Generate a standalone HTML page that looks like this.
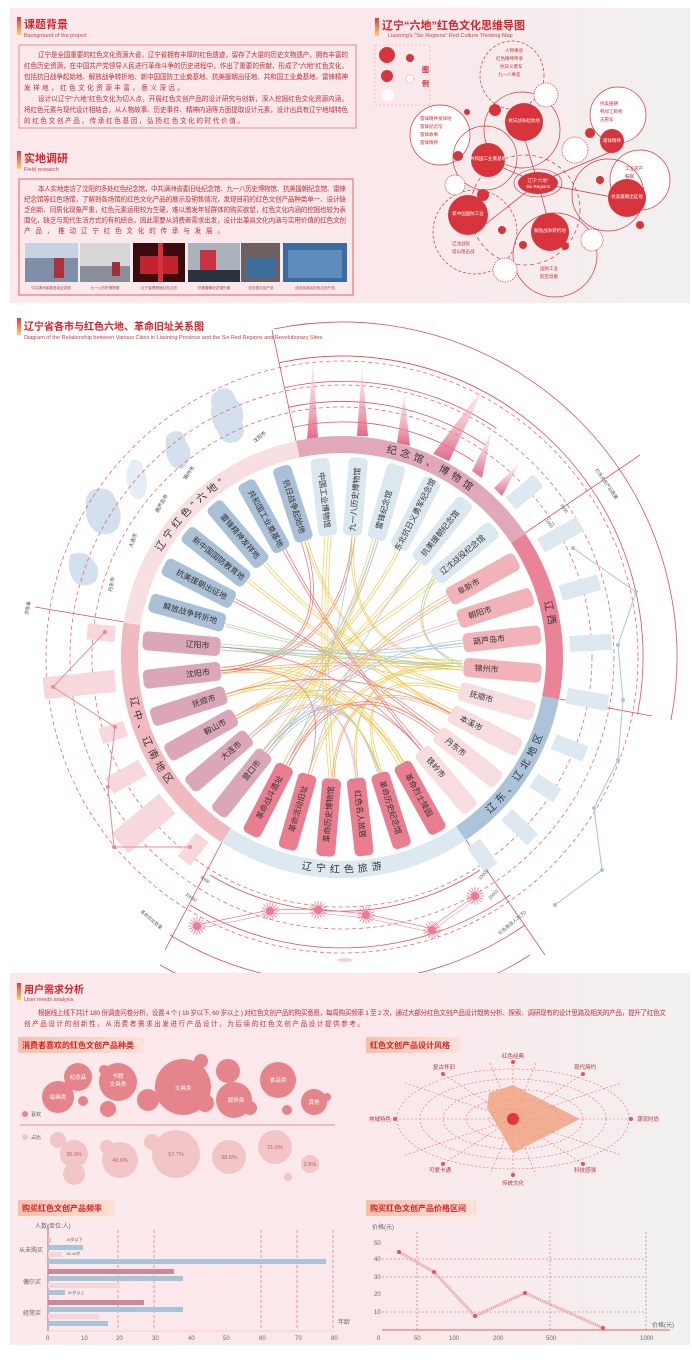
<!DOCTYPE html>
<html><head><meta charset="utf-8">
<style>
html,body{margin:0;padding:0;background:#fff;}
svg{display:block;font-family:"Liberation Sans","Noto Sans CJK SC",sans-serif;}
.h{fill:#d6222c;font-weight:bold;}
.sub{fill:#c84048;font-size:5.5px;}
.p{fill:#c0303a;font-size:6.6px;}
.bt{font-size:8px;fill:#333;text-anchor:middle;dominant-baseline:central;}
.rl{font-size:10px;fill:#333;text-anchor:middle;dominant-baseline:central;letter-spacing:4px;}
.ch path{fill:none;stroke-width:.8;opacity:.85;}
.mm{fill:#c8323a;font-size:4.5px;}
.ax{font-size:6px;fill:#666;}
</style></head>
<body>
<svg width="692" height="1363" viewBox="0 0 692 1363" xmlns="http://www.w3.org/2000/svg">
<defs>
<linearGradient id="pg" x1="0" x2="1" y1="0" y2="0">
<stop offset="0" stop-color="#fce9eb"/><stop offset="0.55" stop-color="#fbe8ea"/><stop offset="1" stop-color="#f1f0f0"/></linearGradient>
<linearGradient id="ic" x1="0" x2="0" y1="0" y2="1"><stop offset="0" stop-color="#e8383a"/><stop offset="1" stop-color="#f7d170"/></linearGradient>
<linearGradient id="tab" x1="0" x2="1"><stop offset="0" stop-color="#f6c0aa"/><stop offset="1" stop-color="#fde2d6"/></linearGradient>
<linearGradient id="sp" x1="0" x2="0" y1="1" y2="0"><stop offset="0" stop-color="#e05878"/><stop offset="1" stop-color="#f6c8d2" stop-opacity=".3"/></linearGradient>
<g id="sb"><circle r="4" fill="#f07b90"/><g stroke="#f07b90" stroke-width=".8">
<line x1="-9" y1="0" x2="9" y2="0"/><line x1="0" y1="-9" x2="0" y2="9"/><line x1="-6.4" y1="-6.4" x2="6.4" y2="6.4"/><line x1="-6.4" y1="6.4" x2="6.4" y2="-6.4"/><line x1="-8.3" y1="-3.4" x2="8.3" y2="3.4"/><line x1="-3.4" y1="-8.3" x2="3.4" y2="8.3"/><line x1="-8.3" y1="3.4" x2="8.3" y2="-3.4"/><line x1="-3.4" y1="8.3" x2="3.4" y2="-8.3"/></g></g>
<path id="a1" d="M297.8,449.2 A212.5,212.5 0 0 1 518.2,538.2"/>
<path id="a2" d="M518.2,538.2 A212.5,212.5 0 0 1 550.6,697.6"/>
<path id="a3" d="M460.8,833.2 A212.5,212.5 0 0 0 550.6,697.6"/>
<path id="a4" d="M226.2,835.3 A212.5,212.5 0 0 0 460.8,833.2"/>
<path id="a5" d="M132.1,623.8 A212.5,212.5 0 0 0 226.2,835.3"/>
<path id="a6" d="M132.1,623.8 A212.5,212.5 0 0 1 297.8,449.2"/>
</defs>

<!-- TOP PANEL -->
<rect x="10" y="8" width="680" height="295" fill="url(#pg)"/>
<rect x="17" y="17" width="4" height="18" fill="url(#ic)"/>
<text x="24" y="28" class="h" font-size="11">课题背景</text>
<text x="24" y="37" class="sub">Background of the project</text>
<rect x="19" y="45" width="337" height="83" fill="none" stroke="#e38a90" stroke-width="1"/>
<text class="p" x="38" y="57" textLength="310">辽宁是全国重要的红色文化资源大省，辽宁省拥有丰厚的红色遗迹，留存了大量的历史文物遗产，拥有丰富的</text>
<text class="p" x="24" y="68" textLength="324">红色历史资源，在中国共产党领导人民进行革命斗争的历史进程中，作出了重要的贡献，形成了“六地”红色文化，</text>
<text class="p" x="24" y="79" textLength="324">包括抗日战争起始地、解放战争转折地、新中国国防工业奠基地、抗美援朝出征地、共和国工业奠基地、雷锋精神</text>
<text class="p" x="24" y="90" textLength="160">发祥地，红色文化资源丰富，意义深远。</text>
<text class="p" x="38" y="101" textLength="310">设计以辽宁“六地”红色文化为切入点，开展红色文创产品的设计研究与创新，深入挖掘红色文化资源内涵，</text>
<text class="p" x="24" y="112" textLength="324">将红色元素与现代设计相结合，从人物故事、历史事件、精神内涵等方面提取设计元素，设计出具有辽宁地域特色</text>
<text class="p" x="24" y="123" textLength="220">的红色文创产品，传承红色基因，弘扬红色文化的时代价值。</text>

<rect x="17" y="151" width="4" height="18" fill="url(#ic)"/>
<text x="24" y="162" class="h" font-size="11">实地调研</text>
<text x="24" y="171" class="sub">Field research</text>
<rect x="19" y="179" width="334" height="116" fill="none" stroke="#e3606a" stroke-width="1"/>
<text class="p" x="38" y="191" textLength="308">本人实地走访了沈阳的多处红色纪念馆，中共满洲省委旧址纪念馆、九一八历史博物馆、抗美援朝纪念馆、雷锋</text>
<text class="p" x="24" y="201.5" textLength="322">纪念馆等红色场馆，了解到各场馆的红色文化产品的展示及销售情况，发现目前的红色文创产品种类单一、设计缺</text>
<text class="p" x="24" y="212" textLength="322">乏创新、同质化现象严重，红色元素运用较为生硬，难以激发年轻群体的购买欲望，红色文化内涵的挖掘也较为表</text>
<text class="p" x="24" y="222.5" textLength="322">面化，缺乏与现代生活方式的有机结合，因此需要从消费者需求出发，设计出兼具文化内涵与实用价值的红色文创</text>
<text class="p" x="24" y="233" textLength="200">产品，推动辽宁红色文化的传承与发展。</text>
<rect x="25" y="243" width="53" height="39" fill="#7f8fa8"/><rect x="25" y="243" width="53" height="15" fill="#c6d3e2"/><rect x="54" y="258" width="10" height="20" fill="#b0303a"/>
<rect x="80" y="243" width="50" height="39" fill="#d8d6d6"/><rect x="80" y="266" width="50" height="16" fill="#8a8e98"/><rect x="112" y="262" width="8" height="14" fill="#a03038"/>
<rect x="133" y="243" width="52" height="39" fill="#3a0c0e"/><rect x="140" y="256" width="38" height="18" fill="#c02430"/><rect x="158" y="243" width="5" height="39" fill="#d83038"/>
<rect x="188" y="243" width="52" height="39" fill="#aab2bc"/><rect x="200" y="250" width="16" height="32" fill="#c8353c"/><rect x="188" y="270" width="52" height="12" fill="#2a3440"/>
<rect x="241" y="243" width="39" height="39" fill="#6c6060"/><rect x="246" y="258" width="30" height="20" fill="#3e6e9e"/>
<rect x="283" y="243" width="64" height="39" fill="#3a6aa0"/><rect x="288" y="250" width="54" height="28" fill="#6e9cc8" opacity=".7"/>
<g font-size="3.6" fill="#b0343a" text-anchor="middle"><text x="51" y="289">中共满洲省委旧址纪念馆</text><text x="105" y="289">九一八历史博物馆</text><text x="159" y="289">辽宁省博物馆红色文创</text><text x="214" y="289">抗美援朝纪念馆外景</text><text x="261" y="289">纪念馆文创产品</text><text x="315" y="289">纪念品商店红色文创产品</text></g>

<!-- mind map -->
<rect x="375" y="18" width="4" height="18" fill="url(#ic)"/>
<text x="382" y="29" class="h" font-size="11">辽宁“六地”红色文化思维导图</text>
<text x="388" y="37" class="sub">Liaoning's "Six Regions" Red Culture Thinking Map</text>
<rect x="375" y="45" width="55" height="60" fill="none" stroke="#e8a0a4" stroke-width=".6" stroke-dasharray="2 2"/>
<circle cx="387" cy="55" r="8" fill="#d8343c"/><circle cx="410" cy="58" r="4" fill="#d8343c"/>
<circle cx="387" cy="76" r="6" fill="#d8343c"/><circle cx="410" cy="79" r="4" fill="#fff" stroke="#d8343c" stroke-width=".5" stroke-dasharray="1 1"/>
<circle cx="388" cy="95" r="6" fill="#fff"/>
<text x="422" y="72" class="h" font-size="7">图</text><text x="422" y="86" class="h" font-size="7">例</text>
<g fill="none" stroke="#d8343c" stroke-width=".7">
<ellipse cx="512" cy="75" rx="32" ry="34" stroke-dasharray="3 2"/>
<circle cx="522" cy="130" r="38"/>
<circle cx="440" cy="135" r="30" fill="#fff"/>
<circle cx="485" cy="158" r="32"/>
<circle cx="618" cy="115" r="28" fill="#fff"/>
<circle cx="640" cy="180" r="30" fill="#fff"/>
<circle cx="608" cy="195" r="36"/>
<circle cx="475" cy="232" r="42" stroke-dasharray="3 2"/>
<circle cx="555" cy="255" r="42"/>
<circle cx="525" cy="210" r="55" stroke-dasharray="4 3"/>
<circle cx="546" cy="95" r="12" fill="#fff" stroke-dasharray="1.5 1"/>
<circle cx="575" cy="150" r="13" fill="#fff" stroke-dasharray="1.5 1"/>
<circle cx="505" cy="270" r="12" fill="#fff" stroke-dasharray="1.5 1"/>
<circle cx="592" cy="240" r="11" fill="#fff" stroke-dasharray="1.5 1"/>
<circle cx="455" cy="185" r="10" fill="#fff" stroke-dasharray="1.5 1"/>
<path d="M538,183 L522,130 M538,183 L485,160 M538,183 L615,150 M538,183 L628,200 M538,183 L478,230 M538,183 L552,235"/>
</g>
<g fill="#d8343c">
<circle cx="524" cy="122" r="19"/><circle cx="488" cy="160" r="17"/><circle cx="612" cy="141" r="12"/>
<circle cx="627" cy="198" r="19"/><circle cx="468" cy="215" r="20"/><circle cx="550" cy="232" r="19"/>
<circle cx="495" cy="110" r="6"/><circle cx="458" cy="156" r="5"/><circle cx="590" cy="133" r="5"/>
<circle cx="483" cy="195" r="6"/><circle cx="523" cy="245" r="4"/><circle cx="565" cy="246" r="4"/><circle cx="600" cy="180" r="4"/>
<circle cx="502" cy="230" r="4"/><circle cx="640" cy="225" r="4"/><circle cx="467" cy="112" r="3"/>
<ellipse cx="538" cy="183" rx="20" ry="11"/>
</g>
<ellipse cx="538" cy="183" rx="24" ry="14" fill="none" stroke="#d8343c" stroke-width=".6"/>
<g class="mm"><text x="505" y="52">人物事迹</text><text x="496" y="60">红色精神传承</text><text x="500" y="68">抗日义勇军</text><text x="498" y="76">九一八事变</text>
<text x="420" y="120">雷锋精神发祥地</text><text x="420" y="128">雷锋纪念馆</text><text x="420" y="136">雷锋故事</text><text x="420" y="144">雷锋精神</text>
<text x="600" y="105">抗美援朝</text><text x="600" y="113">鸭绿江断桥</text><text x="600" y="121">志愿军</text>
<text x="625" y="170">工业遗产</text><text x="625" y="178">鞍钢</text><text x="628" y="186">沈飞</text>
<text x="452" y="245">辽沈战役</text><text x="452" y="253">塔山阻击战</text><text x="540" y="270">国防工业</text><text x="540" y="278">航空母舰</text></g>
<g fill="#fff" font-size="4.5" text-anchor="middle"><text x="538" y="182">辽宁“六地”</text><text x="538" y="188">Six Regions</text>
<text x="524" y="122">抗日战争起始地</text><text x="488" y="160">共和国工业奠基地</text><text x="627" y="198">抗美援朝出征地</text><text x="468" y="215">新中国国防工业</text><text x="550" y="232">解放战争转折地</text><text x="612" y="142">雷锋精神</text></g>

<!-- MIDDLE TITLE -->
<rect x="17" y="318" width="4" height="17" fill="url(#ic)"/>
<text x="24" y="330" class="h" font-size="10">辽宁省各市与红色六地、革命旧址关系图</text>
<text x="24" y="339" class="sub" font-size="4.5">Diagram of the Relationship between Various Cities in Liaoning Province and the Six Red Regions and Revolutionary Sites</text>

<!-- map blobs -->
<g fill="#b7cde2" opacity=".6">
<path d="M218,390 q14,-6 18,10 q10,8 6,22 q6,14 -6,20 q-14,4 -18,-10 q-10,-14 -6,-26 q-4,-10 6,-16z"/>
<path d="M172,432 q12,-4 14,10 q8,10 2,20 q-6,12 -16,4 q-8,-10 -6,-22 q-2,-8 6,-12z"/>
<path d="M132,460 q10,-2 12,10 q6,12 0,26 q-8,8 -14,-4 q-6,-14 -2,-24z" opacity=".6"/>
<path d="M92,490 q18,-6 24,10 q8,14 2,28 q-8,10 -22,4 q-12,-10 -10,-26 q-2,-10 6,-16z"/>
<path d="M70,555 q14,-6 22,4 q10,10 4,22 q-10,8 -20,2 q-10,-10 -6,-28z"/>
</g>
<g font-size="5" fill="#444"><text x="255" y="443" transform="rotate(-40 255 443)">沈阳市</text><text x="186" y="480" transform="rotate(-55 186 480)">锦州市</text><text x="158" y="513" transform="rotate(-60 158 513)">葫芦岛市</text><text x="132" y="548" transform="rotate(-70 132 548)">大连市</text><text x="112" y="592" transform="rotate(-80 112 592)">丹东市</text></g>

<!-- guide circles -->
<g fill="none" stroke="#e46a7a" stroke-width=".8" stroke-dasharray="4 3">
<circle cx="342" cy="657" r="250"/><circle cx="342" cy="657" r="272"/><circle cx="342" cy="657" r="296"/>
</g>
<g fill="none" stroke="#e0505e" stroke-width=".8">
<path d="M292.5,427.4 A236,236 0 0 1 473.9,461.5"/>
<path d="M288.3,407.3 A256,256 0 0 1 485.1,444.8"/>
<path d="M284.6,387.6 A276,276 0 0 1 496.4,428.2"/>
<path d="M279.8,362.6 A301,301 0 0 1 510.3,407.5"/>
<path d="M279.8,362.6 A301,301 0 0 1 637.5,714.4" />
<path d="M274,329 A335,335 0 0 1 671,720" />
<path d="M480,870 A255,255 0 0 1 210,875"/>
<path d="M510,895 A292,292 0 0 1 190,905"/>
<path d="M525,925 A325,325 0 0 1 170,935"/>
<path d="M530,955 A360,360 0 0 1 160,965"/>
<line x1="296" y1="441" x2="272" y2="330"/>
<line x1="525" y1="533" x2="640" y2="455"/>
<line x1="559" y1="699" x2="652" y2="716"/>
<line x1="466" y1="840" x2="545" y2="955"/>
<line x1="222" y1="842" x2="165" y2="950"/>
<line x1="124" y1="622" x2="35" y2="607"/>
</g>
<!-- spikes -->
<g fill="url(#sp)" opacity=".9">
<path d="M307,440 L313,360 L318,438z"/>
<path d="M357,436 L362,365 L368,436z"/>
<path d="M397,443 L404,392 L410,446z"/>
<path d="M433,454 L485,385 L449,461z"/>
<path d="M472,471 L492,430 L482,478z"/>
<path d="M494,488 L520,462 L502,496z"/>
</g>
<!-- outer pale bars -->
<g fill="#dde8f0">
<rect x="570" y="640" width="36" height="16" transform="rotate(-40 342 657)"/>
<rect x="570" y="648" width="45" height="16" transform="rotate(-29 342 657)"/>
<rect x="570" y="648" width="40" height="16" transform="rotate(-16 342 657)"/>
<rect x="570" y="648" width="42" height="16" transform="rotate(-3 342 657)"/>
<rect x="570" y="648" width="42" height="16" transform="rotate(10 342 657)"/>
<rect x="570" y="648" width="34" height="16" transform="rotate(22 342 657)"/>
<rect x="570" y="648" width="28" height="16" transform="rotate(33 342 657)"/>
<rect x="570" y="648" width="36" height="16" transform="rotate(44 342 657)"/>
<rect x="570" y="648" width="30" height="16" transform="rotate(55 342 657)"/>
</g>
<g fill="#f7d8dc">
<rect x="570" y="648" width="28" height="16" transform="rotate(186 342 657)"/>
<rect x="570" y="646" width="72" height="22" transform="rotate(174 342 657)"/>
<rect x="570" y="648" width="26" height="16" transform="rotate(162 342 657)"/>
<rect x="570" y="648" width="38" height="18" transform="rotate(151 342 657)"/>
<rect x="570" y="644" width="62" height="26" transform="rotate(140 342 657)"/>
<rect x="570" y="648" width="30" height="16" transform="rotate(128 342 657)"/>
</g>
<polyline points="573,548 636,592 618,645 623,700 618,760 594,808 602,870 555,905" fill="none" stroke="#a8c4dc" stroke-width="1"/>
<g fill="#a8c4dc"><circle cx="573" cy="548" r="2"/><circle cx="636" cy="592" r="2"/><circle cx="618" cy="645" r="2"/><circle cx="623" cy="700" r="2"/><circle cx="618" cy="760" r="2"/><circle cx="594" cy="808" r="2"/><circle cx="602" cy="870" r="2"/><circle cx="555" cy="905" r="2"/></g>
<polyline points="105,632 53,687 115,727 108,787 114,847 190,847" fill="none" stroke="#ec8a98" stroke-width="1"/>
<g fill="#ec8a98"><circle cx="105" cy="632" r="2"/><circle cx="53" cy="687" r="2"/><circle cx="115" cy="727" r="2"/><circle cx="108" cy="787" r="2"/><circle cx="114" cy="847" r="2"/><circle cx="190" cy="847" r="2"/></g>
<!-- starbursts -->
<polyline points="197,925 270,910 318,909 366,914 430,928 475,896" fill="none" stroke="#f07b90" stroke-width=".7"/>
<polyline points="197,929 270,914 318,913 366,918 430,932 475,900" fill="none" stroke="#f07b90" stroke-width=".5"/>
<use href="#sb" x="197" y="926"/><use href="#sb" x="270" y="911"/><use href="#sb" x="318" y="910"/><use href="#sb" x="366" y="915"/><use href="#sb" x="432" y="930"/><use href="#sb" x="475" y="896"/>
<g font-size="4.5" fill="#555">
<text x="140" y="912" transform="rotate(40 140 912)">革命旧址数量</text>
<text x="500" y="935" transform="rotate(-40 500 935)">红色旅游人次(万)</text>
<text x="595" y="470" transform="rotate(55 595 470)">红色文创产品数量</text>
<text x="28" y="615" transform="rotate(-80 28 615)">游客量</text>
<text x="200" y="878" transform="rotate(35 200 878)">5000</text>
<text x="185" y="895" transform="rotate(35 185 895)">10000</text>
<text x="480" y="880" transform="rotate(-45 480 880)">10000</text>
<text x="490" y="900" transform="rotate(-45 490 900)">20000</text>
<text x="545" y="520" transform="rotate(55 545 520)">1000</text>
<text x="560" y="505" transform="rotate(55 560 505)">1500</text>
</g>

<!-- RING -->
<g fill="none" stroke-width="17">
<use href="#a1" stroke="#e0a8b8"/><use href="#a2" stroke="#ea8398"/><use href="#a3" stroke="#abc4da"/>
<use href="#a4" stroke="#dde9f1"/><use href="#a5" stroke="#f1b9c0"/><use href="#a6" stroke="#f8dfe2"/>
</g>
<g class="rl">
<text><textPath href="#a1" startOffset="55%" text-anchor="middle" dominant-baseline="central">纪念馆、博物馆</textPath></text>
<text><textPath href="#a2" startOffset="50%" text-anchor="middle" dominant-baseline="central">辽西</textPath></text>
<text><textPath href="#a3" startOffset="50%" text-anchor="middle" dominant-baseline="central">辽东、辽北地区</textPath></text>
<text><textPath href="#a4" startOffset="50%" text-anchor="middle" dominant-baseline="central">辽宁红色旅游</textPath></text>
<text><textPath href="#a5" startOffset="50%" text-anchor="middle" dominant-baseline="central">辽中、辽南地区</textPath></text>
<text><textPath href="#a6" startOffset="50%" text-anchor="middle" dominant-baseline="central">辽宁红色“六地”</textPath></text>
</g>

<!-- CHORDS -->
<g class="ch">
<g stroke="#f3c84a"><path d="M220.8,670.8 Q342,657 401.2,763.7"/><path d="M222,674 Q342,660 398,765"/><path d="M219,667 Q342,654 404,762"/></g>
<g stroke="#ee6b6b"><path d="M220.8,670.8 Q342,657 352.1,535.4"/><path d="M222,673 Q342,660 355,536"/></g>
<g stroke="#ee6b6b"><path d="M220.8,670.8 Q342,657 304.8,540.9"/><path d="M222,668 Q340,655 301,542"/></g>
<g stroke="#f4a460"><path d="M220.8,670.8 Q342,657 463.6,667.1"/><path d="M221,673 Q342,660 463,670"/></g>
<g stroke="#a8d08d"><path d="M220.4,646.9 Q342,657 463.6,667.1"/><path d="M221,650 Q342,660 463,664"/><path d="M220.4,644 Q342,654 463,661"/></g>
<g stroke="#a8d08d"><path d="M220.4,646.9 Q342,657 459.2,690.6"/><path d="M224.8,623.4 Q342,657 463.6,667.1"/><path d="M226,626 Q342,660 463,670"/></g>
<g stroke="#ee6b6b"><path d="M233.5,601.1 Q342,657 437.5,733"/><path d="M236,599 Q342,655 440,731"/></g>
<g stroke="#f3c84a"><path d="M246.5,581 Q342,657 450.5,712.9"/><path d="M249,579 Q342,655 452,710"/></g>
<g stroke="#f3c84a"><path d="M263.2,563.9 Q342,657 459.2,690.6"/><path d="M266,562 Q342,655 460,688"/></g>
<g stroke="#ee6b6b"><path d="M282.8,550.3 Q342,657 420.8,750.1"/><path d="M285,548 Q342,655 423,748"/></g>
<g stroke="#f3c84a"><path d="M304.8,540.9 Q342,657 450.5,712.9"/><path d="M307,539 Q342,655 452,715"/></g>
<g stroke="#f3c84a"><path d="M328.2,535.7 Q320,640 331.9,778.6"/><path d="M331,536 Q323,640 335,778"/><path d="M325,536 Q317,640 329,778"/></g>
<g stroke="#f3c84a"><path d="M352.1,535.4 Q342,657 463.6,667.1"/><path d="M355,536 Q342,655 463,664"/></g>
<g stroke="#f3c84a"><path d="M375.7,539.8 Q342,657 266,752.5"/><path d="M378,541 Q342,660 268,755"/><path d="M373,539 Q340,655 263,750"/></g>
<g stroke="#9cc3e0"><path d="M375.7,539.8 Q342,657 248.9,735.8"/><path d="M378,541 Q344,659 251,738"/></g>
<g stroke="#f3c84a"><path d="M397.9,548.5 Q342,657 235.3,716.2"/><path d="M400,550 Q344,659 237,719"/></g>
<g stroke="#f3c84a"><path d="M418,561.5 Q342,657 248.9,735.8"/><path d="M420,564 Q344,659 251,738"/></g>
<g stroke="#f3c84a"><path d="M435.1,578.2 Q342,657 225.8,694.2"/><path d="M437,581 Q344,659 227,697"/></g>
<g stroke="#a8d08d"><path d="M435.1,578.2 Q400,640 463.6,667.1"/><path d="M433,576 Q398,640 463,664"/></g>
<g stroke="#f4a460"><path d="M448.7,597.8 Q342,657 286.1,765.5"/><path d="M450,600 Q344,659 289,766"/><path d="M447,595 Q340,655 283,764"/></g>
<g stroke="#f0a8c0"><path d="M458.2,619.8 Q342,657 235.3,716.2"/><path d="M458,623 Q342,660 236,719"/></g>
<g stroke="#9cc3e0"><path d="M463.2,643.2 Q342,657 220.4,646.9"/><path d="M463,646 Q342,660 221,650"/></g>
<g stroke="#9cc3e0"><path d="M463.2,643.2 Q342,657 266,752.5"/><path d="M463,640 Q342,654 264,750"/></g>
<g stroke="#f3c84a"><path d="M463.6,667.1 Q342,657 308.3,774.2"/><path d="M463,670 Q342,660 311,775"/><path d="M463.6,667.1 Q342,657 355.8,778.2"/><path d="M463,664 Q342,654 358,778"/></g>
<g stroke="#f3c84a"><path d="M459.2,690.6 Q342,657 379.2,773.2"/><path d="M459,693 Q342,660 382,772"/></g>
<g stroke="#f4a460"><path d="M450.5,712.9 Q342,657 331.9,778.6"/><path d="M450,715 Q342,660 334,778"/></g>
<g stroke="#ee6b6b"><path d="M437.5,733 Q342,657 286.1,765.5"/><path d="M437,736 Q342,660 289,766"/></g>
<g stroke="#ee6b6b"><path d="M420.8,750.1 Q342,657 266,752.5"/><path d="M420.8,750.1 Q342,657 220.4,646.9"/></g>
<g stroke="#9cc3e0"><path d="M266,752.5 Q342,657 379.2,773.2"/><path d="M268,755 Q342,660 381,774"/><path d="M264,750 Q342,655 377,772"/></g>
<g stroke="#f0a8c0"><path d="M248.9,735.8 Q342,657 355.8,778.2"/><path d="M251,738 Q342,660 358,778"/></g>
<g stroke="#f3c84a"><path d="M235.3,716.2 Q342,657 401.2,763.7"/><path d="M236,719 Q342,660 403,762"/></g>
<g stroke="#f4a460"><path d="M235.3,716.2 Q342,657 437.5,733"/></g>
<g stroke="#f3c84a"><path d="M225.8,694.2 Q342,657 379.2,773.2"/><path d="M226,697 Q342,660 381,774"/></g>
<g stroke="#ee6b6b"><path d="M225.8,694.2 Q342,657 450.5,712.9"/><path d="M220.8,670.8 Q342,657 308.3,774.2"/></g>
<g stroke="#9cc3e0"><path d="M352.1,535.4 Q342,657 286.1,765.5"/><path d="M418,561.5 Q342,657 308.3,774.2"/></g>
</g>

<!-- BARS -->
<g>
<g transform="rotate(-29 342 657)"><rect x="464" y="647.5" width="78" height="19" rx="5" fill="#f1b3b8"/><text class="bt" x="487" y="657">阜新市</text></g>
<g transform="rotate(-17.75 342 657)"><rect x="464" y="647.5" width="78" height="19" rx="5" fill="#f1b3b8"/><text class="bt" x="487" y="657">朝阳市</text></g>
<g transform="rotate(-6.5 342 657)"><rect x="464" y="647.5" width="78" height="19" rx="5" fill="#f1b3b8"/><text class="bt" x="490" y="657">葫芦岛市</text></g>
<g transform="rotate(4.75 342 657)"><rect x="464" y="647.5" width="78" height="19" rx="5" fill="#f1b3b8"/><text class="bt" x="487" y="657">锦州市</text></g>
<g transform="rotate(16 342 657)"><rect x="464" y="647.5" width="78" height="19" rx="5" fill="#f7dde0"/><text class="bt" x="487" y="657">抚顺市</text></g>
<g transform="rotate(27.25 342 657)"><rect x="464" y="647.5" width="78" height="19" rx="5" fill="#f7dde0"/><text class="bt" x="487" y="657">本溪市</text></g>
<g transform="rotate(38.5 342 657)"><rect x="464" y="647.5" width="78" height="19" rx="5" fill="#f7dde0"/><text class="bt" x="487" y="657">丹东市</text></g>
<g transform="rotate(49.75 342 657)"><rect x="464" y="647.5" width="78" height="19" rx="5" fill="#f7dde0"/><text class="bt" x="487" y="657">铁岭市</text></g>
<g transform="rotate(61 342 657)"><rect x="464" y="647.5" width="78" height="19" rx="5" fill="#e97e90"/><text class="bt" x="500" y="657">革命烈士陵园</text></g>
<g transform="rotate(72.25 342 657)"><rect x="464" y="647.5" width="78" height="19" rx="5" fill="#e97e90"/><text class="bt" x="500" y="657">革命历史纪念馆</text></g>
<g transform="rotate(83.5 342 657)"><rect x="464" y="647.5" width="78" height="19" rx="5" fill="#e97e90"/><text class="bt" x="500" y="657">红色名人故居</text></g>
<g transform="rotate(94.75 342 657)"><rect x="464" y="647.5" width="78" height="19" rx="5" fill="#e97e90"/><text class="bt" x="500" y="657" transform="rotate(180 500 657)">革命历史博物馆</text></g>
<g transform="rotate(106 342 657)"><rect x="464" y="647.5" width="78" height="19" rx="5" fill="#e97e90"/><text class="bt" x="500" y="657" transform="rotate(180 500 657)">革命活动旧址</text></g>
<g transform="rotate(117.25 342 657)"><rect x="464" y="647.5" width="78" height="19" rx="5" fill="#e97e90"/><text class="bt" x="500" y="657" transform="rotate(180 500 657)">革命战斗遗址</text></g>
<g transform="rotate(128.5 342 657)"><rect x="464" y="647.5" width="78" height="19" rx="5" fill="#dba7b8"/><text class="bt" x="487" y="657" transform="rotate(180 487 657)">营口市</text></g>
<g transform="rotate(139.75 342 657)"><rect x="464" y="647.5" width="78" height="19" rx="5" fill="#dba7b8"/><text class="bt" x="487" y="657" transform="rotate(180 487 657)">大连市</text></g>
<g transform="rotate(151 342 657)"><rect x="464" y="647.5" width="78" height="19" rx="5" fill="#dba7b8"/><text class="bt" x="487" y="657" transform="rotate(180 487 657)">鞍山市</text></g>
<g transform="rotate(162.25 342 657)"><rect x="464" y="647.5" width="78" height="19" rx="5" fill="#dba7b8"/><text class="bt" x="487" y="657" transform="rotate(180 487 657)">抚顺市</text></g>
<g transform="rotate(173.5 342 657)"><rect x="464" y="647.5" width="78" height="19" rx="5" fill="#dba7b8"/><text class="bt" x="487" y="657" transform="rotate(180 487 657)">沈阳市</text></g>
<g transform="rotate(184.75 342 657)"><rect x="464" y="647.5" width="78" height="19" rx="5" fill="#dba7b8"/><text class="bt" x="487" y="657" transform="rotate(180 487 657)">辽阳市</text></g>
<g transform="rotate(196 342 657)"><rect x="464" y="647.5" width="78" height="19" rx="5" fill="#a9c0d6"/><text class="bt" x="500" y="657" transform="rotate(180 500 657)">解放战争转折地</text></g>
<g transform="rotate(207.25 342 657)"><rect x="464" y="647.5" width="78" height="19" rx="5" fill="#a9c0d6"/><text class="bt" x="500" y="657" transform="rotate(180 500 657)">抗美援朝出征地</text></g>
<g transform="rotate(218.5 342 657)"><rect x="464" y="647.5" width="78" height="19" rx="5" fill="#a9c0d6"/><text class="bt" x="500" y="657" transform="rotate(180 500 657)">新中国国防教育地</text></g>
<g transform="rotate(229.75 342 657)"><rect x="464" y="647.5" width="78" height="19" rx="5" fill="#a9c0d6"/><text class="bt" x="500" y="657" transform="rotate(180 500 657)">雷锋精神发祥地</text></g>
<g transform="rotate(241 342 657)"><rect x="464" y="647.5" width="78" height="19" rx="5" fill="#a9c0d6"/><text class="bt" x="500" y="657" transform="rotate(180 500 657)">共和国工业奠基地</text></g>
<g transform="rotate(252.25 342 657)"><rect x="464" y="647.5" width="78" height="19" rx="5" fill="#a9c0d6"/><text class="bt" x="500" y="657" transform="rotate(180 500 657)">抗日战争起始地</text></g>
<g transform="rotate(263.5 342 657)"><rect x="464" y="647.5" width="78" height="19" rx="5" fill="#dce8f0"/><text class="bt" x="500" y="657" transform="rotate(180 500 657)">中国工业博物馆</text></g>
<g transform="rotate(274.75 342 657)"><rect x="464" y="647.5" width="78" height="19" rx="5" fill="#dce8f0"/><text class="bt" x="500" y="657">九一八历史博物馆</text></g>
<g transform="rotate(286 342 657)"><rect x="464" y="647.5" width="78" height="19" rx="5" fill="#dce8f0"/><text class="bt" x="495" y="657">雷锋纪念馆</text></g>
<g transform="rotate(297.25 342 657)"><rect x="464" y="647.5" width="78" height="19" rx="5" fill="#dce8f0"/><text class="bt" x="502" y="657" font-size="7">东北抗日义勇军纪念馆</text></g>
<g transform="rotate(308.5 342 657)"><rect x="464" y="647.5" width="78" height="19" rx="5" fill="#dce8f0"/><text class="bt" x="500" y="657">抗美援朝纪念馆</text></g>
<g transform="rotate(319.75 342 657)"><rect x="464" y="647.5" width="78" height="19" rx="5" fill="#dce8f0"/><text class="bt" x="500" y="657">辽沈战役纪念馆</text></g>
</g>

<!-- BOTTOM PANEL -->
<ellipse cx="345" cy="960" rx="8" ry="2" fill="#f6d0d4"/>
<rect x="10" y="973" width="680" height="372" fill="url(#pg)"/>
<rect x="17" y="983" width="4" height="17" fill="url(#ic)"/>
<text x="24" y="993" class="h" font-size="10">用户需求分析</text>
<text x="24" y="1001" class="sub">User needs analysis</text>
<text class="p" x="38" y="1015" textLength="628" font-size="6">根据线上线下共计 180 份调查问卷分析，设置 4 个 ( 18 岁以下, 60 岁以上 ) 对红色文创产品的购买意愿，每周购买频率 1 至 2 次，通过大部分红色文创产品设计趋势分析、探索、调研现有的设计思路及相关的产品，提升了红色文</text>
<text class="p" x="24" y="1026" textLength="340" font-size="6">创产品设计的创新性，从消费者需求出发进行产品设计，为后续的红色文创产品设计提供参考。</text>

<rect x="18" y="1037" width="126" height="16" fill="url(#tab)"/>
<text x="22" y="1048" class="h" font-size="8">消费者喜欢的红色文创产品种类</text>
<rect x="366" y="1037" width="94" height="16" fill="url(#tab)"/>
<text x="370" y="1048" class="h" font-size="8">红色文创产品设计风格</text>
<rect x="18" y="1200" width="96" height="16" fill="url(#tab)"/>
<text x="22" y="1211" class="h" font-size="8">购买红色文创产品频率</text>
<rect x="366" y="1200" width="111" height="16" fill="url(#tab)"/>
<text x="370" y="1211" class="h" font-size="8">购买红色文创产品价格区间</text>

<!-- bubbles -->
<g fill="#e5848a">
<circle cx="58" cy="1097" r="16"/><circle cx="78" cy="1077" r="14"/><circle cx="83" cy="1101" r="5"/>
<circle cx="118" cy="1082" r="19"/><circle cx="104" cy="1070" r="5"/><circle cx="108" cy="1109" r="8"/>
<circle cx="183" cy="1087" r="28"/><circle cx="201" cy="1061" r="7"/><circle cx="148" cy="1100" r="11"/><circle cx="205" cy="1103" r="9"/>
<circle cx="234" cy="1100" r="18"/><circle cx="228" cy="1071" r="12"/><circle cx="250" cy="1108" r="7"/>
<circle cx="278" cy="1080" r="18"/><circle cx="287" cy="1110" r="5"/><circle cx="314" cy="1102" r="13"/><circle cx="327" cy="1097" r="4"/>
</g>
<g fill="#fff" font-size="5.5" text-anchor="middle"><text x="58" y="1099">绘画类</text><text x="78" y="1079">纪念品</text><text x="118" y="1078">书籍</text><text x="118" y="1086">文具类</text><text x="183" y="1090">文具类</text><text x="236" y="1102">服饰类</text><text x="278" y="1082">食品类</text><text x="314" y="1104">其他</text></g>
<circle cx="25" cy="1114" r="3" fill="#e5848a"/><text x="31" y="1116" font-size="5" fill="#555">喜欢</text>
<line x1="20" y1="1125" x2="335" y2="1125" stroke="#e9a0a0" stroke-width="1.2"/>
<circle cx="25" cy="1137" r="3" fill="#f2c5c7"/><text x="31" y="1139" font-size="5" fill="#555">占比</text>
<g fill="#f2c5c7">
<circle cx="74" cy="1154" r="14"/><circle cx="58" cy="1140" r="8"/><circle cx="74" cy="1174" r="11"/>
<circle cx="120" cy="1160" r="18"/><circle cx="107" cy="1147" r="7"/>
<circle cx="176" cy="1154" r="24"/><circle cx="152" cy="1142" r="8"/>
<circle cx="229" cy="1157" r="17"/><circle cx="275" cy="1147" r="17"/><circle cx="310" cy="1164" r="9"/><circle cx="288" cy="1177" r="4"/>
</g>
<g fill="#c06068" font-size="5.5" text-anchor="middle"><text x="74" y="1156">35.9%</text><text x="120" y="1162">40.6%</text><text x="176" y="1156">57.7%</text><text x="229" y="1159">38.6%</text><text x="275" y="1149">21.6%</text><text x="310" y="1166">2.8%</text></g>

<!-- radar -->
<g fill="none" stroke="#e8706a" stroke-width=".6" stroke-dasharray="2 2">
<ellipse cx="513" cy="1119" rx="116" ry="50"/><ellipse cx="513" cy="1119" rx="93" ry="40"/><ellipse cx="513" cy="1119" rx="70" ry="30"/><ellipse cx="513" cy="1119" rx="47" ry="20"/><ellipse cx="513" cy="1119" rx="24" ry="10"/>
<line x1="513" y1="1119" x2="513" y2="1062"/><line x1="513" y1="1119" x2="513" y2="1175"/><line x1="513" y1="1119" x2="395" y2="1119"/><line x1="513" y1="1119" x2="631" y2="1119"/>
<line x1="513" y1="1119" x2="443" y2="1074"/><line x1="513" y1="1119" x2="583" y2="1074"/><line x1="513" y1="1119" x2="443" y2="1164"/><line x1="513" y1="1119" x2="583" y2="1164"/>
<line x1="405" y1="1083" x2="621" y2="1155"/><line x1="405" y1="1155" x2="621" y2="1083"/><line x1="490" y1="1063" x2="536" y2="1175"/><line x1="536" y1="1063" x2="490" y2="1175"/>
</g>
<polygon points="513,1085 580,1119 513,1153 487,1108 489,1093" fill="#f0a07e" opacity=".8"/>
<circle cx="513" cy="1119" r="6" fill="#e8343c"/>
<g fill="#e8506a"><circle cx="513" cy="1062" r="2"/><circle cx="513" cy="1175" r="2"/><circle cx="395" cy="1119" r="2"/><circle cx="631" cy="1119" r="2"/><circle cx="443" cy="1074" r="2"/><circle cx="583" cy="1074" r="2"/><circle cx="443" cy="1164" r="2"/><circle cx="583" cy="1164" r="2"/></g>
<g font-size="5.5" fill="#c0303a" text-anchor="middle"><text x="513" y="1058">红色经典</text><text x="444" y="1069">复古怀旧</text><text x="585" y="1069">现代简约</text><text x="380" y="1121">地域特色</text><text x="648" y="1121">潮流时尚</text><text x="440" y="1172">可爱卡通</text><text x="513" y="1185">传统文化</text><text x="585" y="1172">科技感强</text></g>

<!-- bar chart -->
<g stroke="#e05a64" stroke-width=".6" stroke-dasharray="3 2">
<line x1="118" y1="1230" x2="118" y2="1330"/><line x1="154" y1="1230" x2="154" y2="1330"/><line x1="261" y1="1230" x2="261" y2="1330"/><line x1="297" y1="1230" x2="297" y2="1330"/><line x1="333" y1="1230" x2="333" y2="1330"/>
</g>
<line x1="48" y1="1225" x2="48" y2="1331" stroke="#e05a64" stroke-width="1"/>
<line x1="48" y1="1331" x2="335" y2="1331" stroke="#f0b8bc" stroke-width=".6"/>
<text x="35" y="1228" class="ax" font-size="5">人数(单位:人)</text>
<g>
<rect x="48" y="1238" width="3" height="5" fill="#ccc"/>
<rect x="48" y="1245" width="35" height="5" fill="#a9c3d8"/>
<rect x="48" y="1252" width="14" height="5" fill="#f6d5d8"/>
<rect x="48" y="1259" width="278" height="5" fill="#a9c3d8"/>
<rect x="48" y="1269" width="126" height="5" fill="#c98a9a"/>
<rect x="48" y="1276" width="135" height="5" fill="#a9c3d8"/>
<rect x="48" y="1283" width="72" height="5" fill="#f6d5d8"/>
<rect x="48" y="1290" width="17" height="5" fill="#a9c3d8"/>
<rect x="48" y="1300" width="96" height="5" fill="#c98a9a"/>
<rect x="48" y="1307" width="135" height="5" fill="#a9c3d8"/>
<rect x="48" y="1314" width="51" height="5" fill="#f6d5d8"/>
<rect x="48" y="1321" width="60" height="5" fill="#a9c3d8"/>
</g>
<g class="ax" font-size="5.5"><text x="19" y="1252">从未购买</text><text x="23" y="1284">偶尔买</text><text x="23" y="1315">经常买</text>
<text x="66" y="1241" font-size="4">18岁以下</text><text x="66" y="1255" font-size="4">18-40岁</text><text x="68" y="1294" font-size="4">60岁以上</text>
<text x="338" y="1324">年龄</text>
<text x="46" y="1340">0</text><text x="81" y="1340">10</text><text x="116" y="1340">20</text><text x="152" y="1340">30</text><text x="188" y="1340">40</text><text x="223" y="1340">50</text><text x="259" y="1340">60</text><text x="295" y="1340">70</text><text x="331" y="1340">80</text></g>

<!-- line chart -->
<g stroke="#e05a64" stroke-width=".6" stroke-dasharray="2 2">
<line x1="382" y1="1259" x2="646" y2="1259"/><line x1="382" y1="1277" x2="646" y2="1277"/><line x1="382" y1="1312" x2="646" y2="1312"/>
<line x1="417" y1="1232" x2="417" y2="1330"/><line x1="550" y1="1232" x2="550" y2="1330"/><line x1="646" y1="1232" x2="646" y2="1330"/>
</g>
<line x1="382" y1="1330" x2="670" y2="1330" stroke="#e8605e" stroke-width="1"/>
<polyline points="399,1252 434,1272 475,1316 525,1293 603,1328" fill="none" stroke="#eaa0a8" stroke-width="3" stroke-dasharray="1.2 .8"/>
<g fill="#e8506a"><circle cx="399" cy="1252" r="2"/><circle cx="434" cy="1272" r="2"/><circle cx="475" cy="1316" r="2"/><circle cx="525" cy="1293" r="2"/><circle cx="603" cy="1328" r="2"/></g>
<g class="ax" font-size="5.5"><text x="372" y="1229">价格(元)</text><text x="374" y="1245">50</text><text x="374" y="1261">40</text><text x="374" y="1279">30</text><text x="374" y="1296">20</text><text x="374" y="1314">10</text>
<text x="377" y="1340">0</text><text x="414" y="1340">50</text><text x="449" y="1340">100</text><text x="493" y="1340">200</text><text x="546" y="1340">500</text><text x="640" y="1340">1000</text><text x="652" y="1327">价格(元)</text></g>
</svg>
</body></html>
